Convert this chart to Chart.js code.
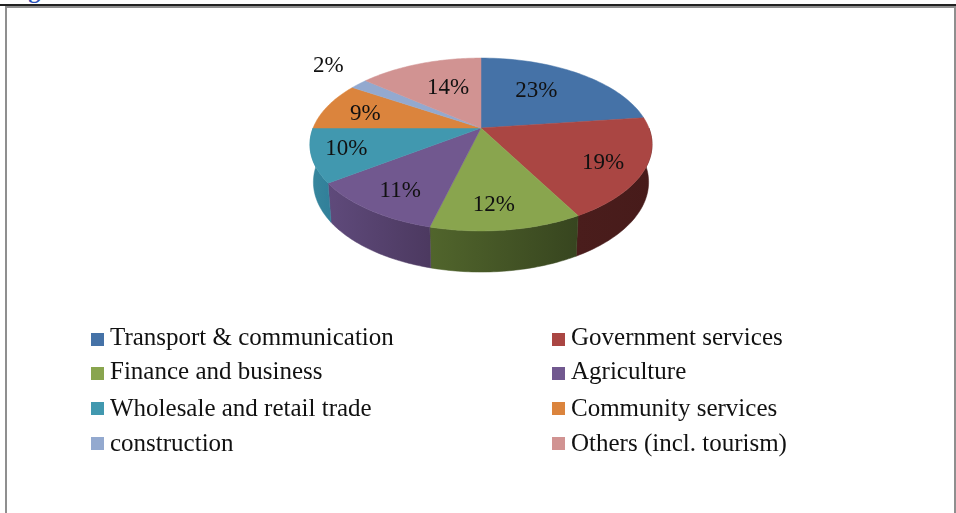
<!DOCTYPE html>
<html>
<head>
<meta charset="utf-8">
<title>Sector shares</title>
<script src="https://cdn.jsdelivr.net/npm/chart.js@4/dist/chart.umd.js"></script>
<style>
  html, body { margin: 0; background: #fff; overflow: hidden; }
  #wrap { position: relative; width: 956px; height: 513px; overflow: hidden; }
  #rule { position: absolute; left: 0; top: 4px; width: 956px; height: 2px; background: #222; }
  #frame { position: absolute; left: 5px; top: 6px; width: 947px; height: 520px; border: 2px solid #8f8f8f; }
  #caption { position: absolute; left: 7px; top: -23px; font: bold 24px/26px "Liberation Serif", serif; color: #2a50b8; }
  canvas { position: absolute; left: 0; top: 0; }
</style>
</head>
<body>
<div id="wrap">
  <div id="caption">Figure</div>
  <div id="rule"></div>
  <div id="frame"></div>
  <canvas id="pie" width="956" height="513"></canvas>
</div>
<script>
const sectors = ['Transport & communication', 'Government services', 'Finance and business', 'Agriculture',
  'Wholesale and retail trade', 'Community services', 'construction', 'Others (incl. tourism)'];
const shares = [23, 19, 12, 11, 10, 9, 2, 14];

const faceColors = ['#4572A7', '#AA4643', '#89A54E', '#71588F', '#4198AF', '#DB843D', '#93A9CF', '#D19392'];
// wall shading, left and right end of each slice's visible side
const wallColors = [['#35587f', '#2a4666'], ['#4a1d1c', '#471b1a'], ['#51652c', '#37451f'], ['#5f4a7b', '#4c3960'],
  ['#38879d', '#31809a'], ['#a5632c', '#8a5225'], ['#6f7f9c', '#5f6d87'], ['#9c6e6d', '#855d5c']];
// hand placement of the percentage labels, relative to each slice's middle
const labelNudges = [[-8, -1], [24, 10], [-2, 19], [-16, 16], [-32, 4], [-19, 0], [-74, -34], [7, 2]];

const CX = 481, CY = 128, AREA = 120;
const TILT = { spreadX: 167.9 / AREA, spreadY: 83.3 / AREA, lean: 0.1907 };
const WALL = { drop: 37, growth: 0.04, narrow: 0.98 };
const FONT = '"Liberation Serif", serif';

// perspective view of a point on the pie's top face; r runs 0..1 from the hub to the rim
function project(el, angle, r) {
  const p = r * Math.cos(angle), q = r * Math.sin(angle), d = 1 - TILT.lean * q;
  return {
    x: el.x + el.outerRadius * TILT.spreadX * p / d,
    y: el.y + el.outerRadius * TILT.spreadY * q / d
  };
}

function projectBase(el, angle) {
  const pt = project(el, angle, 1);
  return {
    x: el.x + (pt.x - el.x) * WALL.narrow,
    y: pt.y + WALL.drop + WALL.growth * (pt.y - el.y)
  };
}

class TiltedArc extends Chart.ArcElement {
  static id = 'tiltedArc';

  draw(ctx) {
    const n = 48;
    ctx.save();
    ctx.beginPath();
    const hub = project(this, 0, 0);
    ctx.moveTo(hub.x, hub.y);
    for (let i = 0; i <= n; i++) {
      const pt = project(this, this.startAngle + (this.endAngle - this.startAngle) * i / n, 1);
      ctx.lineTo(pt.x, pt.y);
    }
    ctx.closePath();
    ctx.fillStyle = this.options.backgroundColor;
    ctx.strokeStyle = this.options.backgroundColor;
    ctx.lineWidth = 0.5;
    ctx.fill();
    ctx.stroke();
    ctx.restore();
  }

  drawWall(ctx, shades) {
    const from = Math.max(this.startAngle, 0), to = Math.min(this.endAngle, Math.PI);
    if (to <= from) return;
    const n = 48, top = [], base = [];
    for (let i = 0; i <= n; i++) {
      const a = from + (to - from) * i / n;
      top.push(project(this, a, 1));
      base.push(projectBase(this, a));
    }
    const xs = top.map(pt => pt.x);
    const grad = ctx.createLinearGradient(Math.min(...xs), 0, Math.max(...xs), 0);
    grad.addColorStop(0, shades[0]);
    grad.addColorStop(1, shades[1]);
    ctx.save();
    ctx.beginPath();
    top.forEach((pt, i) => (i ? ctx.lineTo(pt.x, pt.y) : ctx.moveTo(pt.x, pt.y)));
    base.reverse().forEach(pt => ctx.lineTo(pt.x, pt.y));
    ctx.closePath();
    ctx.fillStyle = grad;
    ctx.strokeStyle = grad;
    ctx.lineWidth = 0.5;
    ctx.fill();
    ctx.stroke();
    ctx.restore();
  }
}

class TiltedPieController extends Chart.PieController {
  static id = 'tiltedPie';
  static defaults = { dataElementType: 'tiltedArc' };

  draw() {
    const ctx = this.chart.ctx;
    this.getMeta().data.forEach((el, i) => el.drawWall(ctx, wallColors[i]));
    super.draw();
  }
}

Chart.register(TiltedArc, TiltedPieController);

const shareLabels = {
  id: 'shareLabels',
  afterDatasetsDraw(chart) {
    const ctx = chart.ctx;
    ctx.save();
    ctx.font = '23px ' + FONT;
    ctx.fillStyle = '#111';
    ctx.textAlign = 'center';
    ctx.textBaseline = 'middle';
    chart.getDatasetMeta(0).data.forEach((el, i) => {
      const mid = project(el, (el.startAngle + el.endAngle) / 2, 0.62);
      ctx.fillText(shares[i] + '%', mid.x + labelNudges[i][0], mid.y + labelNudges[i][1]);
    });
    ctx.restore();
  }
};

// two-column key under the pie, filled row by row
const sectorKey = {
  id: 'sectorKey',
  afterDraw(chart) {
    const ctx = chart.ctx, columns = [91, 552], rows = [339, 373, 408, 443];
    ctx.save();
    ctx.font = '25px ' + FONT;
    ctx.textBaseline = 'alphabetic';
    sectors.forEach((name, i) => {
      const x = columns[i % 2], y = rows[Math.floor(i / 2)];
      ctx.fillStyle = faceColors[i];
      ctx.fillRect(x, y - 6, 13, 13);
      ctx.fillStyle = '#111';
      ctx.fillText(name, x + 19, y + 6 + (i > 3 ? 2 : 0));
    });
    ctx.restore();
  }
};

new Chart(document.getElementById('pie'), {
  type: 'tiltedPie',
  data: {
    labels: sectors,
    datasets: [{ data: shares, backgroundColor: faceColors, borderWidth: 0 }]
  },
  options: {
    responsive: false,
    animation: false,
    events: [],
    layout: {
      padding: { left: CX - AREA, right: 956 - CX - AREA, top: CY - AREA, bottom: 513 - CY - AREA }
    },
    plugins: { legend: { display: false }, tooltip: { enabled: false } }
  },
  plugins: [shareLabels, sectorKey]
});
</script>
</body>
</html>
